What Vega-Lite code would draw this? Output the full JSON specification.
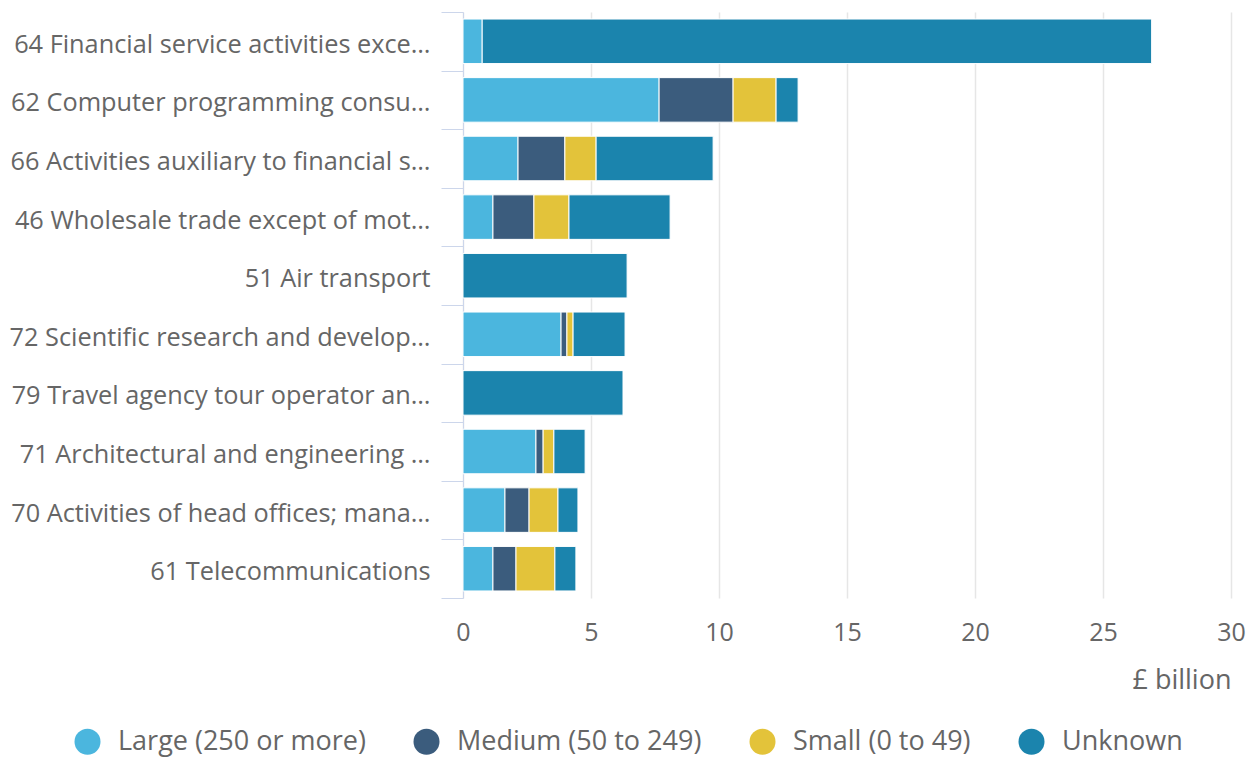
{
  "$schema": "https://vega.github.io/schema/vega-lite/v6.json",
  "width": 768,
  "height": 586,
  "autosize": "none",
  "padding": {"left": 463, "top": 12, "right": 24, "bottom": 160},
  "background": "#ffffff",
  "config": {
    "font": "Open Sans",
    "view": {"stroke": null}
  },
  "data": {
    "values": [
      {"industry": "64 Financial service activities exce…", "size": "Large (250 or more)", "value": 0.75},
      {"industry": "64 Financial service activities exce…", "size": "Unknown", "value": 26.15},
      {"industry": "62 Computer programming consu…", "size": "Large (250 or more)", "value": 7.66},
      {"industry": "62 Computer programming consu…", "size": "Medium (50 to 249)", "value": 2.89},
      {"industry": "62 Computer programming consu…", "size": "Small (0 to 49)", "value": 1.68},
      {"industry": "62 Computer programming consu…", "size": "Unknown", "value": 0.86},
      {"industry": "66 Activities auxiliary to financial s…", "size": "Large (250 or more)", "value": 2.15},
      {"industry": "66 Activities auxiliary to financial s…", "size": "Medium (50 to 249)", "value": 1.83},
      {"industry": "66 Activities auxiliary to financial s…", "size": "Small (0 to 49)", "value": 1.22},
      {"industry": "66 Activities auxiliary to financial s…", "size": "Unknown", "value": 4.57},
      {"industry": "46 Wholesale trade except of mot…", "size": "Large (250 or more)", "value": 1.17},
      {"industry": "46 Wholesale trade except of mot…", "size": "Medium (50 to 249)", "value": 1.6},
      {"industry": "46 Wholesale trade except of mot…", "size": "Small (0 to 49)", "value": 1.37},
      {"industry": "46 Wholesale trade except of mot…", "size": "Unknown", "value": 3.95},
      {"industry": "51 Air transport", "size": "Unknown", "value": 6.41},
      {"industry": "72 Scientific research and develop…", "size": "Large (250 or more)", "value": 3.83},
      {"industry": "72 Scientific research and develop…", "size": "Medium (50 to 249)", "value": 0.23},
      {"industry": "72 Scientific research and develop…", "size": "Small (0 to 49)", "value": 0.24},
      {"industry": "72 Scientific research and develop…", "size": "Unknown", "value": 2.03},
      {"industry": "79 Travel agency tour operator an…", "size": "Unknown", "value": 6.25},
      {"industry": "71 Architectural and engineering …", "size": "Large (250 or more)", "value": 2.85},
      {"industry": "71 Architectural and engineering …", "size": "Medium (50 to 249)", "value": 0.28},
      {"industry": "71 Architectural and engineering …", "size": "Small (0 to 49)", "value": 0.42},
      {"industry": "71 Architectural and engineering …", "size": "Unknown", "value": 1.22},
      {"industry": "70 Activities of head offices; mana…", "size": "Large (250 or more)", "value": 1.64},
      {"industry": "70 Activities of head offices; mana…", "size": "Medium (50 to 249)", "value": 0.94},
      {"industry": "70 Activities of head offices; mana…", "size": "Small (0 to 49)", "value": 1.13},
      {"industry": "70 Activities of head offices; mana…", "size": "Unknown", "value": 0.78},
      {"industry": "61 Telecommunications", "size": "Large (250 or more)", "value": 1.17},
      {"industry": "61 Telecommunications", "size": "Medium (50 to 249)", "value": 0.9},
      {"industry": "61 Telecommunications", "size": "Small (0 to 49)", "value": 1.52},
      {"industry": "61 Telecommunications", "size": "Unknown", "value": 0.82}
    ]
  },
  "mark": {"type": "bar", "height": {"band": 0.76}, "stroke": "#ffffff", "strokeWidth": 1},
  "encoding": {
    "y": {
      "field": "industry",
      "type": "nominal",
      "sort": null,
      "scale": {"paddingInner": 0, "paddingOuter": 0},
      "axis": {
        "title": null,
        "tickBand": "extent",
        "tickSize": 22,
        "tickColor": "#ccd6eb",
        "domainColor": "#ccd6eb",
        "labelFontSize": 25.3,
        "labelColor": "#666666",
        "labelPadding": 11,
        "labelOffset": 3,
        "labelLimit": 460,
        "grid": false
      }
    },
    "x": {
      "field": "value",
      "type": "quantitative",
      "stack": "zero",
      "scale": {"domain": [0, 30], "nice": false},
      "axis": {
        "title": "£ billion",
        "titleFontSize": 27,
        "titleFontWeight": "normal",
        "titleColor": "#666666",
        "titleAnchor": "end",
        "titlePadding": 22,
        "values": [0, 5, 10, 15, 20, 25, 30],
        "domain": false,
        "ticks": false,
        "labelFlush": false,
        "labelFontSize": 25,
        "labelColor": "#666666",
        "labelPadding": 22,
        "gridColor": "#e6e6e6",
        "gridWidth": 1.5
      }
    },
    "color": {
      "field": "size",
      "type": "nominal",
      "scale": {
        "domain": ["Large (250 or more)", "Medium (50 to 249)", "Small (0 to 49)", "Unknown"],
        "range": ["#4bb6de", "#3b5c7d", "#e3c33a", "#1b84ad"]
      },
      "legend": {
        "title": null,
        "orient": "none",
        "direction": "horizontal",
        "legendX": -389,
        "legendY": 716,
        "symbolType": "circle",
        "symbolSize": 676,
        "symbolStrokeWidth": 0,
        "labelFontSize": 27,
        "labelColor": "#666666",
        "labelOffset": 17,
        "columnPadding": 47,
        "labelLimit": 400
      }
    }
  }
}
